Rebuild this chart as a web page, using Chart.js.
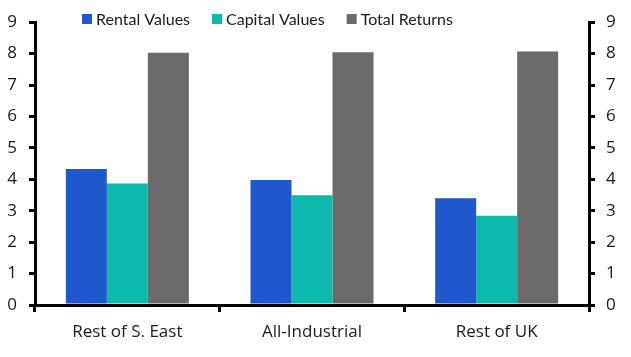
<!DOCTYPE html>
<html>
<head>
<meta charset="utf-8">
<script src="https://cdn.jsdelivr.net/npm/chart.js@4"></script>
<style>
html,body{margin:0;padding:0;background:#fff;}
#wrap{width:631px;height:357px;position:relative;}
</style>
</head>
<body>
<div id="wrap"><canvas id="c" width="631" height="357"></canvas></div>
<script>
const categories = ["Rest of S. East", "All-Industrial", "Rest of UK"];
const rentalValues = [4.33, 3.98, 3.40];
const capitalValues = [3.87, 3.49, 2.84];
const totalReturns = [8.03, 8.04, 8.07];
const seriesNames = ["Rental Values", "Capital Values", "Total Returns"];
const yTicks = [0, 1, 2, 3, 4, 5, 6, 7, 8, 9];

const FONT = "'Open Sans', Lato, sans-serif";
const LEGEND_FONT = "Lato, 'Open Sans', sans-serif";
const colors = ["#1f58cc", "#0db8ac", "#6a6a6a"];

const legendPlugin = {
  id: 'customLegend',
  afterDraw(chart) {
    const ctx = chart.ctx;
    ctx.save();
    ctx.font = "16px " + LEGEND_FONT;
    ctx.textBaseline = "middle";
    let x = 82;
    const y = 19;
    chart.data.datasets.forEach((ds, i) => {
      ctx.fillStyle = ds.backgroundColor;
      ctx.fillRect(x, y - 5, 10, 10);
      x += 14;
      ctx.fillStyle = "#1a1a1a";
      ctx.fillText(ds.label, x, y + 1);
      x += ctx.measureText(ds.label).width + 22;
    });
    ctx.restore();
  }
};

const gridCommon = {
  drawOnChartArea: false,
  drawTicks: true,
  color: "#000",
  tickColor: "#000",
  lineWidth: 3
};

new Chart(document.getElementById('c'), {
  type: 'bar',
  data: {
    labels: categories,
    datasets: [
      { label: seriesNames[0], data: rentalValues, backgroundColor: colors[0] },
      { label: seriesNames[1], data: capitalValues, backgroundColor: colors[1] },
      { label: seriesNames[2], data: totalReturns, backgroundColor: colors[2] }
    ]
  },
  options: {
    responsive: false,
    animation: false,
    devicePixelRatio: 1,
    layout: { padding: { top: 15, left: 0, right: 0, bottom: 0 } },
    datasets: { bar: { categoryPercentage: 0.666, barPercentage: 1.0, borderWidth: 0 } },
    plugins: { legend: { display: false }, tooltip: { enabled: false } },
    scales: {
      x: {
        grid: Object.assign({}, gridCommon, { offset: true, tickLength: 7 }),
        border: { display: true, color: "#000", width: 3 },
        ticks: { color: "#1a1a1a", font: { family: FONT, size: 17 }, padding: 10, maxRotation: 0 },
        afterFit(s) { s.height = 52; }
      },
      y: {
        position: 'left',
        min: 0, max: 9,
        afterBuildTicks(s) { s.ticks = yTicks.map(v => ({ value: v })); },
        grid: Object.assign({}, gridCommon, { tickLength: 6 }),
        border: { display: true, color: "#000", width: 3 },
        ticks: { color: "#1a1a1a", font: { family: FONT, size: 17 }, padding: 12 },
        afterFit(s) { s.width = 35; }
      },
      y2: {
        position: 'right',
        min: 0, max: 9,
        afterBuildTicks(s) { s.ticks = yTicks.map(v => ({ value: v })); },
        grid: Object.assign({}, gridCommon, { tickLength: 6 }),
        border: { display: true, color: "#000", width: 3 },
        ticks: { color: "#1a1a1a", font: { family: FONT, size: 17 }, padding: 11 },
        afterFit(s) { s.width = 42; }
      }
    }
  },
  plugins: [legendPlugin]
});
</script>
</body>
</html>
